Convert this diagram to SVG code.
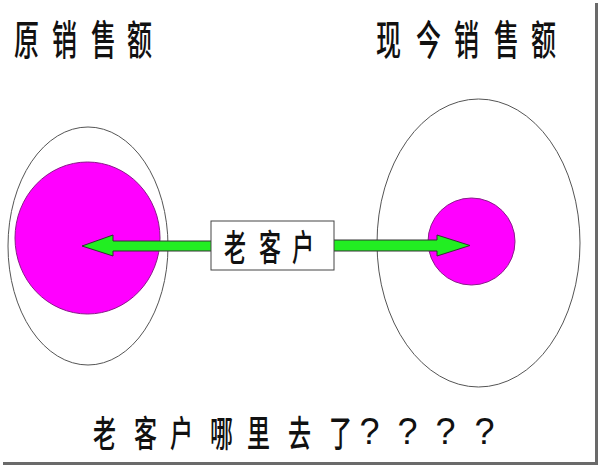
<svg xmlns="http://www.w3.org/2000/svg" width="600" height="467" viewBox="0 0 600 467">
<style>
.outer{fill:#fff;stroke:#555;stroke-width:1}
.core{fill:#ff00ff;stroke:#8a1a8a;stroke-width:1}
.arrow{fill:#22ee22;stroke:#333;stroke-width:1;stroke-linejoin:miter}
.cjk{font-family:"Noto Sans CJK SC","Noto Sans CJK JP",sans-serif;fill:#111;font-weight:500}
.q{font-family:"Liberation Sans",Arial,sans-serif;fill:#111}
</style>
<rect x="0" y="0" width="600" height="467" fill="#fff"/>
<g id="frame-shadow">
<rect x="595" y="3" width="3" height="462" fill="#6a6a6a"/>
<rect x="3" y="462" width="595" height="3" fill="#6a6a6a"/>
</g>
<g id="title-left"><text class="cjk" font-size="25" transform="scale(1,1.65)" y="33.6"><tspan x="14">原</tspan><tspan x="52">销</tspan><tspan x="91">售</tspan><tspan x="127">额</tspan></text></g>
<g id="title-right"><text class="cjk" font-size="25" transform="scale(1,1.65)" y="33.6"><tspan x="376">现</tspan><tspan x="416">今</tspan><tspan x="454">销</tspan><tspan x="494">售</tspan><tspan x="531">额</tspan></text></g>
<g id="node-original">
<ellipse class="outer" cx="88" cy="246" rx="80" ry="119"/>
<ellipse class="core" cx="87.5" cy="238" rx="72.5" ry="76"/>
</g>
<g id="node-current">
<ellipse class="outer" cx="478.5" cy="243" rx="101.5" ry="144"/>
<ellipse class="core" cx="471.5" cy="241.5" rx="43.5" ry="43.5"/>
</g>
<g id="connectors">
<polygon class="arrow" points="82,246 113,235 113,241 212,241 212,251 113,251 113,256"/>
<polygon class="arrow" points="333,240 437,240 437,235 470,245.5 437,256 437,251 333,251"/>
</g>
<g id="node-old-customers">
<rect x="211" y="221" width="123" height="49" fill="#fff" stroke="#444" stroke-width="1"/>
<text class="cjk" font-size="22" transform="scale(1,1.65)" y="158">
<tspan x="224">老</tspan><tspan x="259">客</tspan><tspan x="292">户</tspan></text>
</g>
<g id="caption">
<text class="cjk" font-size="23" transform="scale(1,1.6)" y="279.6"><tspan x="93">老</tspan><tspan x="134">客</tspan><tspan x="170">户</tspan><tspan x="210">哪</tspan><tspan x="247">里</tspan><tspan x="288">去</tspan><tspan x="329">了</tspan></text>
<text class="q" font-size="36" transform="scale(1,1.05)" y="422.9"><tspan x="359.5">?</tspan><tspan x="397.5">?</tspan><tspan x="435.5">?</tspan><tspan x="474.5">?</tspan></text>
</g>
</svg>
